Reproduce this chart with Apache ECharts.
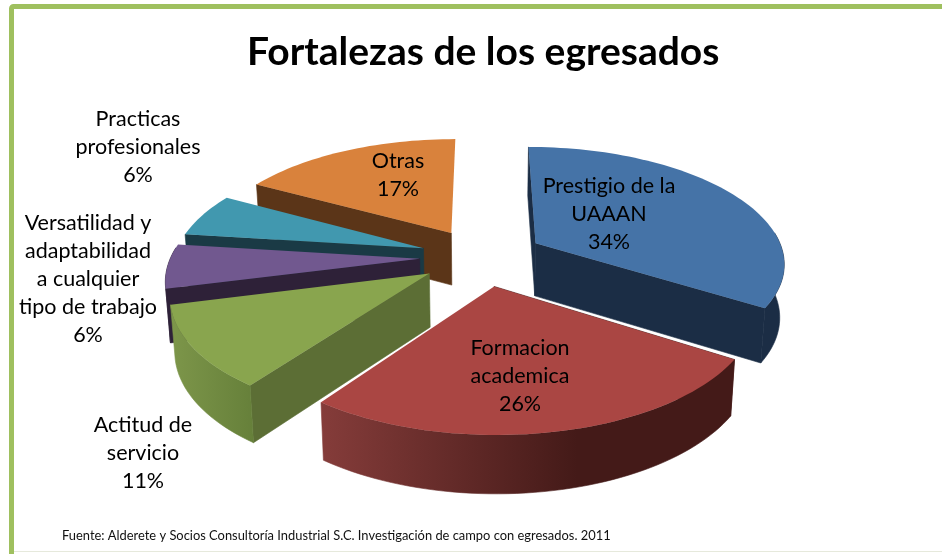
<!DOCTYPE html>
<html>
<head>
<meta charset="utf-8">
<style>html,body{margin:0;padding:0;background:#fff}#c{width:942px;height:554px}</style>
<script src="https://cdn.jsdelivr.net/npm/echarts@6/dist/echarts.min.js"></script>
</head>
<body>
<div id="c"></div>
<script>
const titleText = 'Fortalezas de los egresados';
const sourceText = 'Fuente: Alderete y Socios Consultoría Industrial S.C. Investigación de campo con egresados. 2011';
const categories = ['Prestigio de la\nUAAAN', 'Formacion\nacademica', 'Actitud de\nservicio', 'Versatilidad y\nadaptabilidad\na cualquier\ntipo de trabajo', 'Practicas\nprofesionales', 'Otras'];
const values = [34, 26, 11, 6, 6, 17];
const topColors = ['#4573A7', '#AA4643', '#89A54E', '#71588F', '#4198AF', '#D9823C'];
const sideColors = ['#1B2D45', '#441A18', '#5C6E35', '#2E2138', '#1A3A45', '#5B3518'];
const rimStops = [
  ['#1B2D45', '#1B2D45'],
  ['#853C3A', '#441A18'],
  ['#7D964A', '#66803A'],
  ['#2E2138', '#2E2138'],
  ['#1A3A45', '#1A3A45'],
  ['#5B3518', '#5B3518']
];
const paintOrder = [4, 5, 3, 2, 1, 0];
const labelCenters = [[609, 214], [520, 376], [143, 453], [88, 279], [138, 147], [398, 175]];

// 3-D view of the exploded pie
const view = { cx: 482, cy: 257, rx: 249, ry: 115.3, persp: 0.155, explode: 0.25, depth: 53, shrink: 0.985 };

function topPoint(U, V) {
  const s = 1 + view.persp * V;
  return [view.cx + view.rx * U / s, view.cy - view.ry * V / s];
}
function bottomPoint(U, V) {
  const p = topPoint(U, V);
  return [view.cx + view.shrink * (p[0] - view.cx), p[1] + view.depth / (1 + 0.08 * V)];
}
const total = values.reduce((a, b) => a + b, 0);

function renderSlice(params, api) {
  const i = params.dataIndex;
  let before = 0;
  for (let k = 0; k < i; k++) before += values[k];
  const a0 = before / total * 2 * Math.PI;
  const a1 = (before + api.value(0)) / total * 2 * Math.PI;
  const mid = (a0 + a1) / 2;
  const ox = view.explode * Math.sin(mid), oy = view.explode * Math.cos(mid);
  const steps = Math.max(8, Math.round((a1 - a0) / 0.03));
  const arc = [], front = [];
  for (let s = 0; s <= steps; s++) {
    const a = a0 + (a1 - a0) * s / steps;
    const p = [ox + Math.sin(a), oy + Math.cos(a)];
    arc.push(p);
    if (Math.cos(a) < 0.1) front.push(p);
  }
  const topArc = arc.map(p => topPoint(p[0], p[1]));
  const frontTop = front.map(p => topPoint(p[0], p[1]));
  const frontBot = front.map(p => bottomPoint(p[0], p[1]));
  const apexT = topPoint(ox, oy), apexB = bottomPoint(ox, oy);
  const startBot = bottomPoint(arc[0][0], arc[0][1]);
  const endBot = bottomPoint(arc[steps][0], arc[steps][1]);
  const xs = frontBot.concat(frontTop).map(p => p[0]);
  const x0 = xs.length ? Math.min.apply(null, xs) : 0, x1 = xs.length ? Math.max.apply(null, xs) : 1;
  const rim = new echarts.graphic.LinearGradient(x0, 0, x1, 0, [
    { offset: 0, color: rimStops[i][0] },
    { offset: i === 1 ? 0.62 : 1, color: rimStops[i][1] },
    { offset: 1, color: rimStops[i][1] }
  ], true);
  const z = paintOrder[i] * 10;
  const poly = (points, fill, zz, seam) => ({
    type: 'polygon', z2: z + zz, shape: { points },
    style: { fill, stroke: seam ? fill : null, lineWidth: seam ? 0.6 : 0 }
  });
  const children = [poly([apexT, topArc[0], startBot, apexB], sideColors[i], 0, true)];
  if (a1 < Math.PI) children.push(poly([apexT, topArc[steps], endBot, apexB], sideColors[i], 1, true));
  if (front.length > 1) children.push(poly(frontTop.concat(frontBot.slice().reverse()), rim, 2, true));
  children.push(poly([apexT].concat(topArc), topColors[i], 3, false));
  children.push({
    type: 'text', z2: 1000,
    style: {
      text: categories[i] + '\n' + api.value(0) + '%',
      x: labelCenters[i][0], y: labelCenters[i][1],
      align: 'center', verticalAlign: 'middle',
      font: '400 21.5px Lato', lineHeight: 28, fill: '#000'
    }
  });
  return { type: 'group', children };
}

const chart = echarts.init(document.getElementById('c'), null, { renderer: 'canvas' });
chart.setOption({
  animation: false,
  backgroundColor: '#fff',
  title: [
    { text: titleText, left: 247, top: 33, padding: 0, textStyle: { fontFamily: 'Lato', fontWeight: 700, fontSize: 39, color: '#000' } },
    { text: sourceText, left: 62, top: 529, padding: 0, textStyle: { fontFamily: 'Lato', fontWeight: 400, fontSize: 12.9, color: '#111' } }
  ],
  graphic: [
    { type: 'rect', z: -1, shape: { x: 11.5, y: 6.5, width: 960, height: 600, r: 2 }, style: { fill: 'none', stroke: '#9FC05F', lineWidth: 5 } },
    { type: 'line', z: -1, shape: { x1: 14, y1: 551.5, x2: 942, y2: 551.5 }, style: { stroke: '#E6E9DC', lineWidth: 1 } }
  ],
  series: [{
    type: 'custom',
    coordinateSystem: 'none',
    silent: true,
    clip: false,
    renderItem: renderSlice,
    data: values.map(v => [v])
  }]
});
</script>
</body>
</html>
